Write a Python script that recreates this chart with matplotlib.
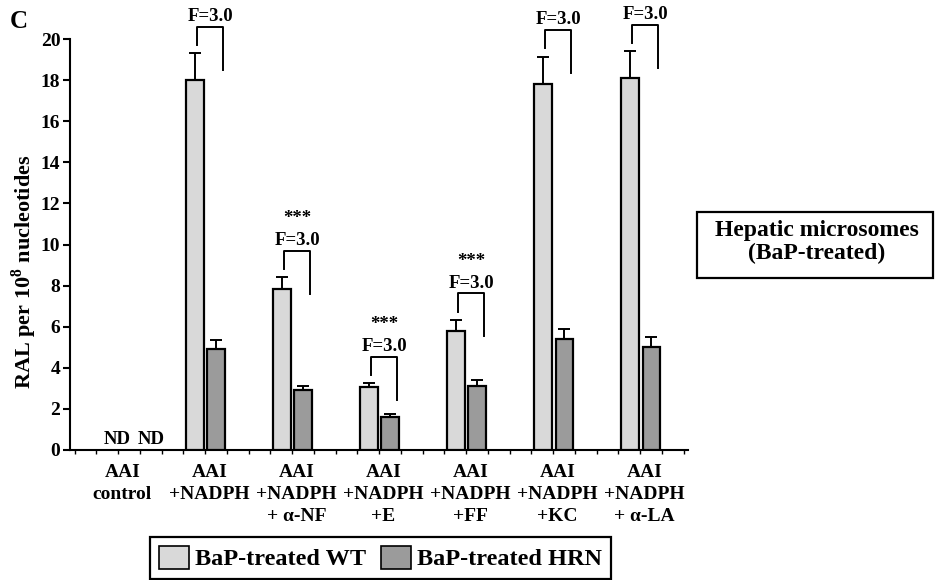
import numpy as np
import matplotlib.pyplot as plt
from matplotlib.patches import Patch, Rectangle
from matplotlib.ticker import MultipleLocator

plt.rcParams['font.family'] = ['Liberation Serif', 'DejaVu Serif']
plt.rcParams['font.weight'] = 'bold'
plt.rcParams['mathtext.fontset'] = 'custom'
plt.rcParams['mathtext.rm'] = 'Liberation Serif:bold'
plt.rcParams['mathtext.bf'] = 'Liberation Serif:bold'

categories = ["AAI\ncontrol", "AAI\n+NADPH", "AAI\n+NADPH\n+ α-NF", "AAI\n+NADPH\n+E",
              "AAI\n+NADPH\n+FF", "AAI\n+NADPH\n+KC", "AAI\n+NADPH\n+ α-LA"]
wt_mean = [0, 18.0, 7.83, 3.05, 5.8, 17.8, 18.1]
wt_err = [0, 1.3, 0.57, 0.2, 0.53, 1.35, 1.3]
hrn_mean = [0, 4.9, 2.92, 1.6, 3.11, 5.42, 5.01]
hrn_err = [0, 0.45, 0.2, 0.15, 0.3, 0.47, 0.47]
ratio_labels = [None, "F=3.0", "F=3.0", "F=3.0", "F=3.0", "F=3.0", "F=3.0"]
stars = [None, "", "***", "***", "***", "", ""]
series = ["BaP-treated WT", "BaP-treated HRN"]
colors = ["#d9d9d9", "#9b9b9b"]

fig = plt.figure(figsize=(9.35, 5.8), dpi=100)
ax = fig.add_axes([70/935, 1-450/580, 618/935, 450/580])

x = np.arange(len(categories))
w = 0.205
xs = x[1:]
ax.bar(xs - 0.115, wt_mean[1:], w, color=colors[0], edgecolor="black", linewidth=1.6, zorder=3)
ax.bar(xs + 0.13, hrn_mean[1:], w, color=colors[1], edgecolor="black", linewidth=1.6, zorder=3)
ax.errorbar(xs - 0.115, wt_mean[1:], yerr=[np.zeros(len(xs)), wt_err[1:]], fmt="none",
            ecolor="black", elinewidth=1.4, capsize=4.5, capthick=1.4, zorder=2)
ax.errorbar(xs + 0.13, hrn_mean[1:], yerr=[np.zeros(len(xs)), hrn_err[1:]], fmt="none",
            ecolor="black", elinewidth=1.4, capsize=4.5, capthick=1.4, zorder=2)

# ND labels for the control
ax.text(x[0] - 0.01, 0.1, "ND", ha="center", va="bottom", fontsize=13.5)
ax.text(x[0] + 0.38, 0.1, "ND", ha="center", va="bottom", fontsize=13.5)

# brackets
for i in range(len(categories)):
    if ratio_labels[i] is None:
        continue
    lx, rx = x[i] - 0.095, x[i] + 0.21
    y0 = wt_mean[i] + wt_err[i] + 0.4
    top = y0 + 0.9
    ax.plot([lx, lx, rx, rx], [y0, top, top, top - 2.1], color="black", lw=1.4, clip_on=False)
    ax.text((lx + rx) / 2, top + 0.08, ratio_labels[i], ha="center", va="bottom", fontsize=13.5)
    if stars[i]:
        ax.text((lx + rx) / 2, top + 1.55, stars[i], ha="center", va="center", fontsize=13.5)

ax.set_xlim(-0.552, 6.55)
ax.set_ylim(0, 21.9)
ax.set_yticks(np.arange(0, 21, 2))
ax.set_xticks(x + 0.05)
ax.set_xticklabels(categories, fontsize=14, linespacing=1.38)
ax.xaxis.set_minor_locator(MultipleLocator(0.25))
ax.tick_params(axis="x", which="major", length=0, pad=10)
ax.tick_params(axis="x", which="minor", length=3, width=1)
ax.tick_params(axis="y", length=5, width=1.5, labelsize=14, pad=2)
for s in ["top", "right"]:
    ax.spines[s].set_visible(False)
ax.spines["left"].set_bounds(0, 20)
ax.spines["left"].set_linewidth(1.5)
ax.spines["bottom"].set_linewidth(1.5)
ax.set_ylabel("RAL per 10$^{8}$ nucleotides", fontsize=16, fontweight="bold")
ax.yaxis.set_label_coords(-0.05, 0.395)

fig.text(10/935, 1-21/580, "C", fontsize=18, ha="left", va="center")

fig.patches.append(Rectangle((697/935, 1-278/580), 236/935, 66/580, transform=fig.transFigure,
                             facecolor="white", edgecolor="black", linewidth=1.6))
fig.text(817/935, 1-242/580, "Hepatic microsomes\n(BaP-treated)", ha="center", va="center",
         fontsize=17, linespacing=1.1)

handles = [Patch(facecolor=colors[0], edgecolor="black", linewidth=1.2),
           Patch(facecolor=colors[1], edgecolor="black", linewidth=1.2)]
leg = fig.legend(handles, series, loc="upper left", bbox_to_anchor=(150/935, 1-537/580), ncol=2,
                 fontsize=17.5, fancybox=False, edgecolor="black", handlelength=1.25, handleheight=1.1,
                 columnspacing=0.6, handletextpad=0.25, borderpad=0.35, borderaxespad=0, framealpha=1)
leg.get_frame().set_linewidth(1.6)

fig.savefig("out.png", dpi=100)
